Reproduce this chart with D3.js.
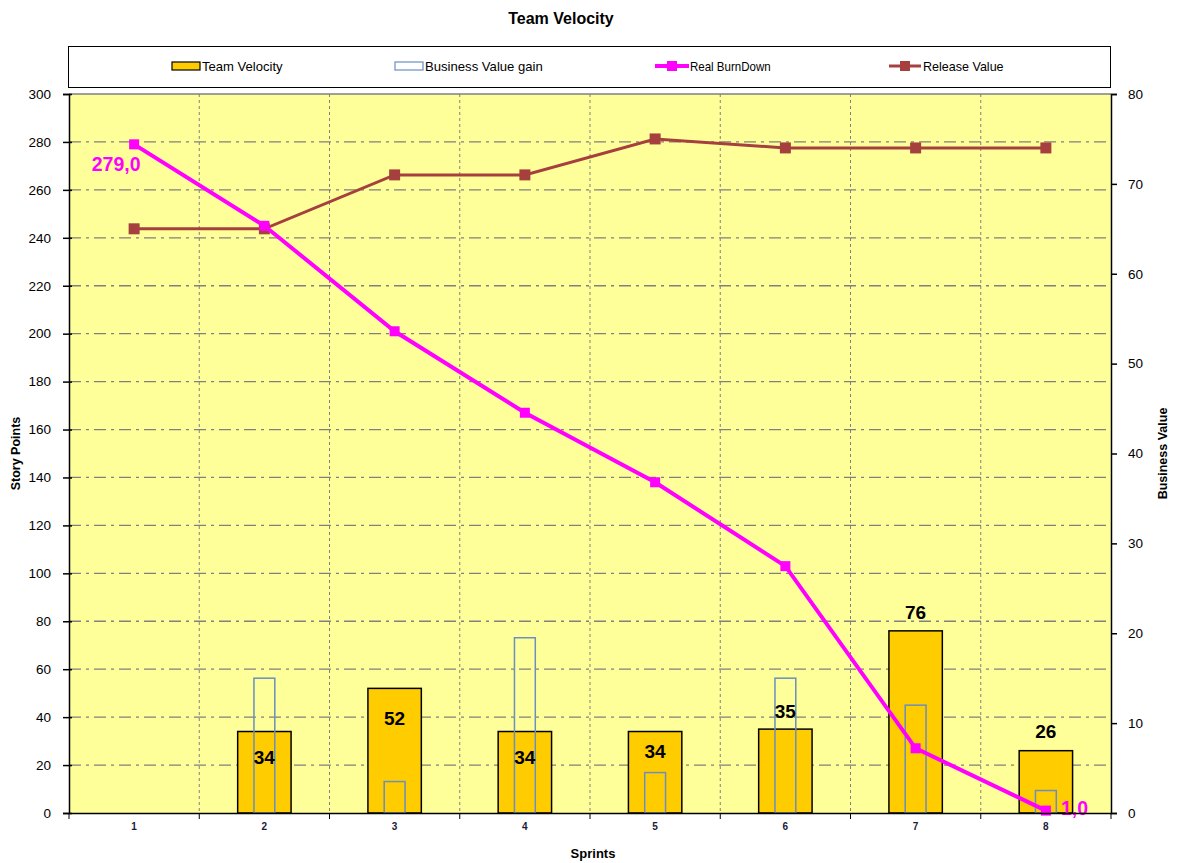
<!DOCTYPE html>
<html>
<head>
<meta charset="utf-8">
<script src="https://cdn.jsdelivr.net/npm/d3@7"></script>
<style>
  body { margin: 0; background: #fff; }
  text { font-family: "Liberation Sans", Arial, sans-serif; }
</style>
</head>
<body>
<div id="chart"></div>
<script>
// Chart data
const sprints = ["1", "2", "3", "4", "5", "6", "7", "8"];
const teamVelocity = [null, 34, 52, 34, 34, 35, 76, 26];
const businessValueGain = [null, 15, 3.5, 19.5, 4.5, 15, 12, 2.5];
const realBurnDown = [279, 245, 201, 167, 138, 103, 27, 1];
const releaseValue = [65, 65, 71, 71, 75, 74, 74, 74];
const leftTicks = d3.range(0, 301, 20);
const rightTicks = d3.range(0, 81, 10);

const drawChart = () => {
    const width = 1179;
    const height = 863;
    const margin = { top: 94, right: 68, bottom: 50, left: 69 };
    const innerWidth = width - margin.left - margin.right;
    const innerHeight = height - margin.top - margin.bottom;

    const svg = d3.select("#chart")
        .append("svg")
        .attr("width", width)
        .attr("height", height);

    // Scales
    const xScale = d3.scaleBand()
        .domain(sprints)
        .range([0, innerWidth]);

    const yLeft = d3.scaleLinear()
        .domain([0, 300])
        .range([innerHeight, 0]);

    const yRight = d3.scaleLinear()
        .domain([0, 80])
        .range([innerHeight, 0]);

    const cx = d => xScale(d) + xScale.bandwidth() / 2;

    // Title
    svg.append("text")
        .text("Team Velocity")
        .attr("x", 561)
        .attr("y", 24)
        .attr("text-anchor", "middle")
        .attr("font-size", 16)
        .attr("font-weight", "bold");

    // Legend box
    const legend = svg.append("g");
    legend.append("rect")
        .attr("x", 68.5).attr("y", 46.5)
        .attr("width", 1042).attr("height", 41)
        .attr("fill", "#fff")
        .attr("stroke", "#000")
        .attr("stroke-width", 1);

    const lgY = 66;
    // Team Velocity
    legend.append("rect")
        .attr("x", 172).attr("y", lgY - 4).attr("width", 28).attr("height", 8)
        .attr("fill", "#FFCC00").attr("stroke", "#000").attr("stroke-width", 1.2);
    // Business Value gain
    legend.append("rect")
        .attr("x", 395).attr("y", lgY - 4).attr("width", 28).attr("height", 8)
        .attr("fill", "none").attr("stroke", "#6A8FC0").attr("stroke-width", 1.2);
    // Real BurnDown
    legend.append("line")
        .attr("x1", 655).attr("x2", 689).attr("y1", lgY).attr("y2", lgY)
        .attr("stroke", "#FF00FF").attr("stroke-width", 4);
    legend.append("rect")
        .attr("x", 667).attr("y", lgY - 5).attr("width", 10).attr("height", 10)
        .attr("fill", "#FF00FF");
    // Release Value
    legend.append("line")
        .attr("x1", 889).attr("x2", 921).attr("y1", lgY).attr("y2", lgY)
        .attr("stroke", "#A5403E").attr("stroke-width", 3);
    legend.append("rect")
        .attr("x", 900).attr("y", lgY - 5).attr("width", 10).attr("height", 10)
        .attr("fill", "#A5403E");

    const legendTexts = [
        { label: "Team Velocity", x: 202 },
        { label: "Business Value gain", x: 425 },
        { label: "Real BurnDown", x: 690 },
        { label: "Release Value", x: 923 }
    ];
    legend.selectAll(".lg-text")
        .data(legendTexts)
        .join("text")
            .attr("class", "lg-text")
            .attr("x", d => d.x)
            .attr("y", lgY + 5)
            .attr("font-size", 13.5)
            .attr("textLength", d => d.label.length * 6.2)
            .attr("lengthAdjust", "spacingAndGlyphs")
            .text(d => d.label);

    // Inner chart
    const innerChart = svg.append("g")
        .attr("transform", `translate(${margin.left},${margin.top})`);

    innerChart.append("rect")
        .attr("width", innerWidth)
        .attr("height", innerHeight)
        .attr("fill", "#FFFF99");

    // Horizontal gridlines (dash-dot)
    innerChart.selectAll(".hgrid")
        .data(leftTicks.filter(d => d > 0))
        .join("line")
            .attr("class", "hgrid")
            .attr("x1", 0).attr("x2", innerWidth)
            .attr("y1", d => yLeft(d)).attr("y2", d => yLeft(d))
            .attr("stroke", "#808080")
            .attr("stroke-width", 1.3)
            .attr("stroke-dasharray", d => d === 300 ? null : "12,5,3,5");

    // Vertical gridlines (short dash)
    innerChart.selectAll(".vgrid")
        .data(sprints.slice(1))
        .join("line")
            .attr("class", "vgrid")
            .attr("x1", d => xScale(d)).attr("x2", d => xScale(d))
            .attr("y1", 0).attr("y2", innerHeight)
            .attr("stroke", "#808080")
            .attr("stroke-width", 1)
            .attr("stroke-dasharray", "3,3");

    // Team Velocity bars
    const barW = xScale.bandwidth() * 0.41;
    innerChart.selectAll(".velocity")
        .data(sprints.filter((d, i) => teamVelocity[i] != null))
        .join("rect")
            .attr("class", "velocity")
            .attr("x", d => cx(d) - barW / 2)
            .attr("y", d => yLeft(teamVelocity[sprints.indexOf(d)]))
            .attr("width", barW)
            .attr("height", d => innerHeight - yLeft(teamVelocity[sprints.indexOf(d)]))
            .attr("fill", "#FFCC00")
            .attr("stroke", "#000")
            .attr("stroke-width", 1.5);

    // Business Value gain bars (outline)
    const bvW = xScale.bandwidth() * 0.16;
    innerChart.selectAll(".bv")
        .data(sprints.filter((d, i) => businessValueGain[i] != null))
        .join("rect")
            .attr("class", "bv")
            .attr("x", d => cx(d) - bvW / 2)
            .attr("y", d => yRight(businessValueGain[sprints.indexOf(d)]))
            .attr("width", bvW)
            .attr("height", d => innerHeight - yRight(businessValueGain[sprints.indexOf(d)]))
            .attr("fill", "none")
            .attr("stroke", "#6A8FC0")
            .attr("stroke-width", 1.5);

    // Velocity labels
    const labelDy = [0, 26, 30, 26, 20, -18, -19, -19];
    innerChart.selectAll(".vlabel")
        .data(sprints.filter((d, i) => teamVelocity[i] != null))
        .join("text")
            .attr("class", "vlabel")
            .attr("x", d => cx(d))
            .attr("y", d => yLeft(teamVelocity[sprints.indexOf(d)]) + labelDy[sprints.indexOf(d)])
            .attr("dy", "0.35em")
            .attr("text-anchor", "middle")
            .attr("font-size", 19)
            .attr("font-weight", "bold")
            .text(d => teamVelocity[sprints.indexOf(d)]);

    // Release Value line
    const releaseLine = d3.line()
        .x((d, i) => cx(sprints[i]))
        .y(d => yRight(d));
    innerChart.append("path")
        .datum(releaseValue)
        .attr("d", releaseLine)
        .attr("fill", "none")
        .attr("stroke", "#A5403E")
        .attr("stroke-width", 3);
    innerChart.selectAll(".rv-mark")
        .data(releaseValue)
        .join("rect")
            .attr("class", "rv-mark")
            .attr("x", (d, i) => cx(sprints[i]) - 5.5)
            .attr("y", d => yRight(d) - 5.5)
            .attr("width", 11).attr("height", 11)
            .attr("fill", "#A5403E");

    // Real BurnDown line
    const burnLine = d3.line()
        .x((d, i) => cx(sprints[i]))
        .y(d => yLeft(d));
    innerChart.append("path")
        .datum(realBurnDown)
        .attr("d", burnLine)
        .attr("fill", "none")
        .attr("stroke", "#FF00FF")
        .attr("stroke-width", 4);
    innerChart.selectAll(".bd-mark")
        .data(realBurnDown)
        .join("rect")
            .attr("class", "bd-mark")
            .attr("x", (d, i) => cx(sprints[i]) - 5)
            .attr("y", d => yLeft(d) - 5)
            .attr("width", 10).attr("height", 10)
            .attr("fill", "#FF00FF");

    // BurnDown labels (first and last)
    const firstIdx = 0, lastIdx = realBurnDown.length - 1;
    innerChart.append("text")
        .attr("x", cx(sprints[firstIdx]) - 18)
        .attr("y", yLeft(realBurnDown[firstIdx]) + 20)
        .attr("dy", "0.35em")
        .attr("text-anchor", "middle")
        .attr("font-size", 19.5)
        .attr("font-weight", "bold")
        .attr("fill", "#FF00FF")
        .text(realBurnDown[firstIdx].toFixed(1).replace(".", ","));
    innerChart.append("text")
        .attr("x", cx(sprints[lastIdx]) + 15)
        .attr("y", yLeft(realBurnDown[lastIdx]) - 2)
        .attr("dy", "0.35em")
        .attr("font-size", 19.5)
        .attr("font-weight", "bold")
        .attr("fill", "#FF00FF")
        .text(realBurnDown[lastIdx].toFixed(1).replace(".", ","));

    // Axes
    const leftAxis = d3.axisLeft(yLeft)
        .tickValues(leftTicks)
        .tickSize(6)
        .tickPadding(12);
    const leftG = innerChart.append("g").call(leftAxis);
    leftG.selectAll(".tick line").attr("x2", -6).attr("x1", 3);

    const rightAxis = d3.axisRight(yRight)
        .tickValues(rightTicks)
        .tickSize(6)
        .tickPadding(11);
    const rightG = innerChart.append("g")
        .attr("transform", `translate(${innerWidth},0)`)
        .call(rightAxis);

    const bottomAxis = d3.axisBottom(xScale)
        .tickSize(0)
        .tickPadding(10);
    const bottomG = innerChart.append("g")
        .attr("transform", `translate(0,${innerHeight})`)
        .call(bottomAxis);
    bottomG.selectAll(".tick text")
        .attr("font-size", 10)
        .attr("font-weight", "bold")
        .attr("fill", "#1a1a3a");

    // Category boundary ticks
    bottomG.selectAll(".bticks")
        .data(sprints.concat(["end"]))
        .join("line")
            .attr("class", "bticks")
            .attr("x1", (d, i) => i * xScale.bandwidth())
            .attr("x2", (d, i) => i * xScale.bandwidth())
            .attr("y1", 0).attr("y2", 6)
            .attr("stroke", "#000");

    [leftG, rightG, bottomG].forEach(g => {
        g.select(".domain").attr("stroke", "#000").attr("stroke-width", 1.5);
        g.selectAll(".tick line").attr("stroke", "#000").attr("stroke-width", 1.5);
        g.attr("font-family", "Liberation Sans, Arial, sans-serif");
    });
    leftG.selectAll(".tick text").attr("font-size", 13.5).attr("fill", "#000");
    rightG.selectAll(".tick text").attr("font-size", 13.5).attr("fill", "#000");

    // Axis titles
    svg.append("text")
        .text("Story Points")
        .attr("transform", `translate(20,${margin.top + innerHeight / 2}) rotate(-90)`)
        .attr("text-anchor", "middle")
        .attr("font-size", 12.5)
        .attr("font-weight", "bold");

    svg.append("text")
        .text("Business Value")
        .attr("transform", `translate(1167,${margin.top + innerHeight / 2}) rotate(-90)`)
        .attr("text-anchor", "middle")
        .attr("font-size", 12.5)
        .attr("font-weight", "bold");

    svg.append("text")
        .text("Sprints")
        .attr("x", 593)
        .attr("y", 858)
        .attr("text-anchor", "middle")
        .attr("font-size", 13)
        .attr("font-weight", "bold");
};

drawChart();
</script>
</body>
</html>
